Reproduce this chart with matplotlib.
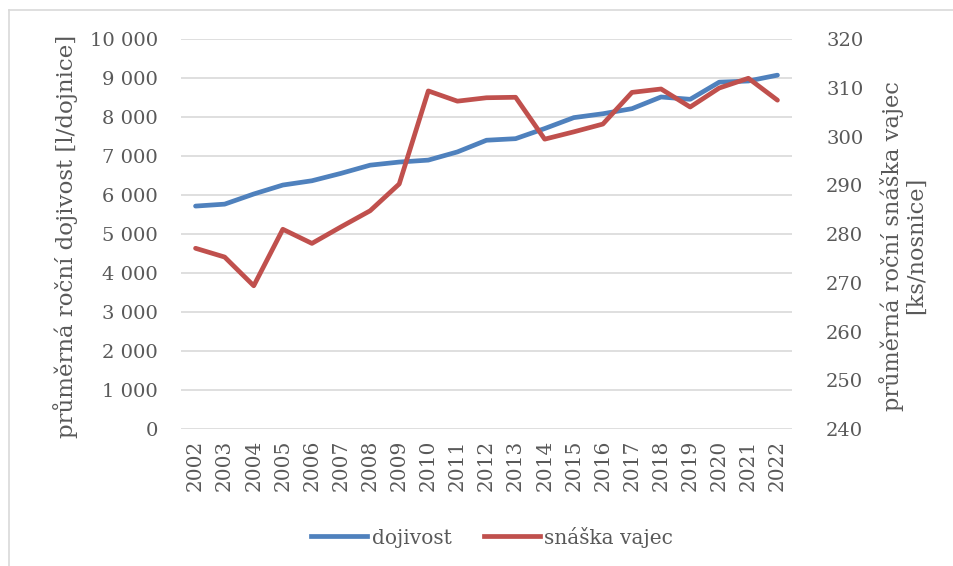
import matplotlib
matplotlib.use("Agg")
import matplotlib.pyplot as plt
from matplotlib.lines import Line2D
from matplotlib.ticker import FuncFormatter

years = [str(y) for y in range(2002, 2023)]
dojivost = [5720, 5770, 6030, 6260, 6370, 6560, 6770, 6850, 6900, 7110, 7410,
            7450, 7710, 7990, 8090, 8220, 8520, 8460, 8900, 8930, 9080]
snaska = [277.1, 275.3, 269.4, 281.0, 278.1, 281.5, 284.8, 290.3, 309.4, 307.3, 308.0,
          308.1, 299.5, 301.0, 302.6, 309.1, 309.8, 306.1, 310.0, 312.0, 307.5]

BLUE = "#4f81bd"
RED = "#c0504d"
TXT = "#595959"
GRID = "#d9d9d9"
plt.rcParams["font.family"] = ["DejaVu Serif"]

fig = plt.figure(figsize=(9.54, 5.66), dpi=100)
ax = fig.add_axes([181 / 954, 1 - 429 / 566, 611 / 954, 389.7 / 566])
ax2 = ax.twinx()

x = range(len(years))
ax.plot(x, dojivost, color=BLUE, lw=3.4, solid_capstyle="round", solid_joinstyle="round")
ax2.plot(x, snaska, color=RED, lw=3.4, solid_capstyle="round", solid_joinstyle="round")

ax.set_xlim(-0.5, len(years) - 0.5)
ax.set_ylim(0, 10000)
ax.set_yticks(range(0, 10001, 1000))
ax.yaxis.set_major_formatter(FuncFormatter(lambda v, p: f"{int(v):,}".replace(",", " ")))
ax2.set_ylim(240, 320)
ax2.set_yticks(range(240, 321, 10))
ax.set_xticks(list(x))
ax.set_xticklabels(years, rotation=90)

ax.grid(axis="y", color=GRID, lw=1.2)
ax.set_axisbelow(True)
for a in (ax, ax2):
    for s in a.spines.values():
        s.set_visible(False)
    a.tick_params(length=0, colors=TXT, labelsize=14)
ax.tick_params(axis="x", labelsize=14.5, pad=8)
ax.tick_params(axis="y", pad=16.5)
ax2.tick_params(axis="y", pad=24.5)

ax.set_ylabel("průměrná roční dojivost [l/dojnice]", color=TXT, fontsize=16.5)
ax.yaxis.set_label_coords(-0.169, 0.495)
ax2.set_ylabel("průměrná roční snáška vajec\n[ks/nosnice]", color=TXT, fontsize=16.2,
               rotation=90, linespacing=1.05)
ax2.yaxis.set_label_coords(1.143, 0.47)

handles = [Line2D([], [], color=BLUE, lw=3.4), Line2D([], [], color=RED, lw=3.4)]
fig.legend(handles, ["dojivost", "snáška vajec"], loc="center", bbox_to_anchor=(492 / 954, 1 - 537 / 566),
           ncol=2, frameon=False, fontsize=14.5, labelcolor=TXT, handlelength=2.8,
           handletextpad=0.2, columnspacing=1.6)

# border of chart area
fig.add_artist(Line2D([9.5 / 954, 9.5 / 954], [0, 1 - 10 / 566], color=GRID, lw=1.2, transform=fig.transFigure))
fig.add_artist(Line2D([9.5 / 954, 1], [1 - 10 / 566, 1 - 10 / 566], color=GRID, lw=1.2, transform=fig.transFigure))

fig.savefig("out.png", dpi=100)
